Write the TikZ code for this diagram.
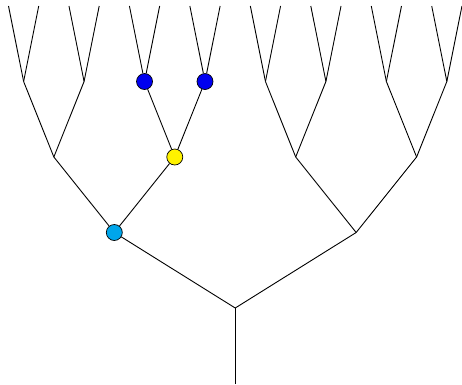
\documentclass[tikz,border=0pt]{standalone}
\begin{document}
\begin{tikzpicture}[x=1pt,y=-1pt,
  edge/.style={draw=black,line width=0.9pt},
  dot/.style={circle,draw=black,line width=0.7pt,minimum size=16pt,inner sep=0pt}]
\definecolor{cblue}{RGB}{0,0,240}
\definecolor{cyellow}{RGB}{255,242,0}
\definecolor{ccyan}{RGB}{0,166,235}
\useasboundingbox (0,0) rectangle (462,384);
% leaves
\foreach \i in {0,...,15} \coordinate (l\i) at ({8.5+30.23*\i},6);
% level 3
\foreach \i in {0,1,4,5,6,7} \coordinate (a\i) at ({8.5+30.23*(2*\i+0.5)},81.5);
\node[dot,fill=cblue] (a2) at ({8.5+30.23*4.5},81.5) {};
\node[dot,fill=cblue] (a3) at ({8.5+30.23*6.5},81.5) {};
% level 2
\coordinate (b0) at ({8.5+30.23*1.5},157);
\node[dot,fill=cyellow] (b1) at ({8.5+30.23*5.5},157) {};
\coordinate (b2) at ({8.5+30.23*9.5},157);
\coordinate (b3) at ({8.5+30.23*13.5},157);
% level 1
\node[dot,fill=ccyan] (c0) at ({8.5+30.23*3.5},232.5) {};
\coordinate (c1) at ({8.5+30.23*11.5},232.5);
% root
\coordinate (r) at ({8.5+30.23*7.5},308);
\coordinate (s) at ({8.5+30.23*7.5},384);
% edges
\begin{scope}[on background layer/.style={}]
\foreach \i/\j/\k in {0/0/1,1/2/3,2/4/5,3/6/7,4/8/9,5/10/11,6/12/13,7/14/15}
  {\draw[edge] (a\i) -- (l\j); \draw[edge] (a\i) -- (l\k);}
\foreach \i/\j/\k in {0/0/1,1/2/3,2/4/5,3/6/7}
  {\draw[edge] (b\i) -- (a\j); \draw[edge] (b\i) -- (a\k);}
\draw[edge] (c0) -- (b0); \draw[edge] (c0) -- (b1);
\draw[edge] (c1) -- (b2); \draw[edge] (c1) -- (b3);
\draw[edge] (r) -- (c0); \draw[edge] (r) -- (c1);
\draw[edge] (s) -- (r);
\end{scope}
\end{tikzpicture}
\end{document}
